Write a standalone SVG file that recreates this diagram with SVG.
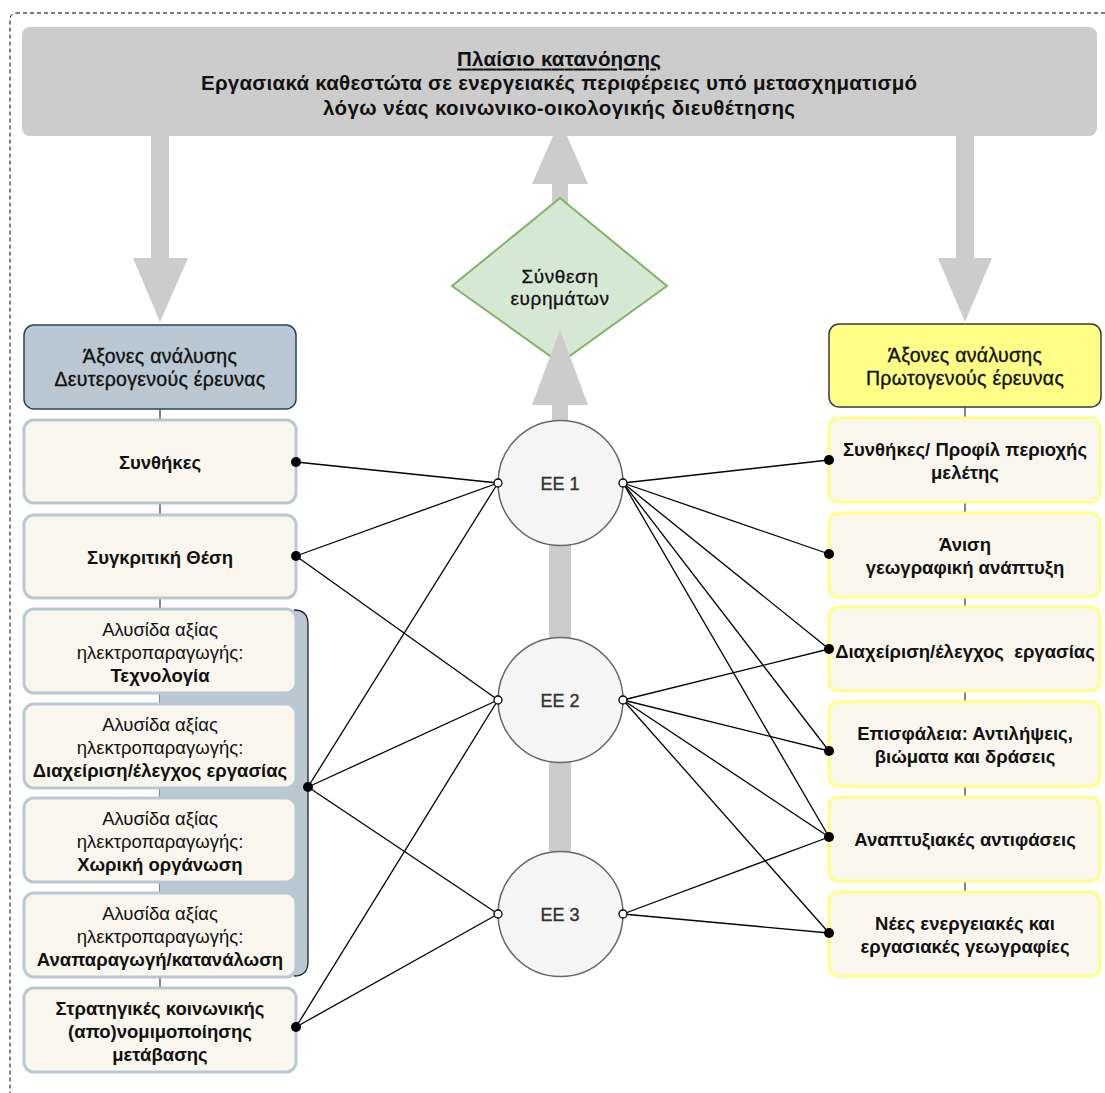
<svg xmlns="http://www.w3.org/2000/svg" width="1105" height="1093" viewBox="0 0 1105 1093">
<style>
.lbox{fill:#f9f7ed;stroke:#bac8d3;stroke-width:3}
.rbox{fill:#f9f7ed;stroke:#ffff88;stroke-width:3}
.t{font-family:"Liberation Sans",Arial,sans-serif;font-size:18.5px;fill:#111;text-anchor:middle;dominant-baseline:central}
.h{font-size:19.5px;letter-spacing:0.3px;stroke:#111;stroke-width:0.35px}
.ti{font-size:20.5px}
.d{font-size:19px;letter-spacing:0.6px;stroke:#111;stroke-width:0.3px}
.b{font-weight:bold}
.conn{stroke:#000;stroke-width:1.3;fill:none}
.vline{stroke:#333;stroke-width:1.2}
.dot{fill:#000}
.port{fill:#fff;stroke:#000;stroke-width:1.3}
.arrow{fill:#cccccc}
.ee{fill:#f5f5f5;stroke:#666;stroke-width:1.5}
.eet{font-family:"Liberation Sans",Arial,sans-serif;font-size:18px;fill:#333;stroke:#333;stroke-width:0.4px;text-anchor:middle;dominant-baseline:central}
</style>
<rect x="10" y="13" width="1200" height="1200" rx="6" fill="none" stroke="#000" stroke-width="1" stroke-dasharray="4 3"/>
<g id="arrow-top">
<rect class="arrow" x="552" y="180" width="16" height="25"/>
<polygon class="arrow" points="532,184 588,184 560,120"/>
</g>
<g id="banner">
<rect x="22" y="27" width="1075" height="109" rx="8" fill="#cccccc"/>
<text class="t ti b" x="559" y="58" text-decoration="underline" textLength="204" lengthAdjust="spacing">Πλαίσιο κατανόησης</text>
<text class="t ti b" x="559" y="82" textLength="716" lengthAdjust="spacing">Εργασιακά καθεστώτα σε ενεργειακές περιφέρειες υπό μετασχηματισμό</text>
<text class="t ti b" x="559" y="107" textLength="472" lengthAdjust="spacing">λόγω νέας κοινωνικο-οικολογικής διευθέτησης</text>
</g>
<g id="arrows-side">
<rect class="arrow" x="151" y="135" width="18" height="124"/>
<polygon class="arrow" points="133,258 188,258 160,322"/>
<rect class="arrow" x="956" y="135" width="18" height="124"/>
<polygon class="arrow" points="938,258 992,258 965,322"/>
</g>
<g id="column-lines">
<line class="vline" x1="160" y1="409" x2="160" y2="988"/>
<line class="vline" x1="965" y1="407" x2="965" y2="892"/>
</g>
<g id="bracket">
<rect x="160" y="610" width="148" height="366" rx="14" fill="#bac8d3"/>
<path d="M294 610 Q308 610 308 624 L308 962 Q308 976 294 976" fill="none" stroke="#222" stroke-width="1.3"/>
</g>
<g id="left-header">
<rect x="24" y="325" width="272" height="84" rx="10" fill="#bac8d3" stroke="#23445d" stroke-width="1.5"/>
<text class="t h" x="160" y="356">Άξονες ανάλυσης</text>
<text class="t h" x="160" y="379">Δευτερογενούς έρευνας</text>
</g>
<g id="l1"><rect class="lbox" x="24" y="420" width="272" height="83" rx="10"/><text class="t b" x="160" y="462">Συνθήκες</text></g>
<g id="l2"><rect class="lbox" x="24" y="515" width="272" height="83" rx="10"/><text class="t b" x="160" y="557">Συγκριτική Θέση</text></g>
<g id="l3"><rect class="lbox" x="24" y="609" width="272" height="84" rx="10"/>
<text class="t" x="160" y="629">Αλυσίδα αξίας</text><text class="t" x="160" y="652">ηλεκτροπαραγωγής:</text><text class="t b" x="160" y="675">Τεχνολογία</text></g>
<g id="l4"><rect class="lbox" x="24" y="704" width="272" height="84" rx="10"/>
<text class="t" x="160" y="724">Αλυσίδα αξίας</text><text class="t" x="160" y="747">ηλεκτροπαραγωγής:</text><text class="t b" x="160" y="770">Διαχείριση/έλεγχος εργασίας</text></g>
<g id="l5"><rect class="lbox" x="24" y="798" width="272" height="84" rx="10"/>
<text class="t" x="160" y="818">Αλυσίδα αξίας</text><text class="t" x="160" y="841">ηλεκτροπαραγωγής:</text><text class="t b" x="160" y="864">Χωρική οργάνωση</text></g>
<g id="l6"><rect class="lbox" x="24" y="893" width="272" height="84" rx="10"/>
<text class="t" x="160" y="913">Αλυσίδα αξίας</text><text class="t" x="160" y="936">ηλεκτροπαραγωγής:</text><text class="t b" x="160" y="959">Αναπαραγωγή/κατανάλωση</text></g>
<g id="l7"><rect class="lbox" x="24" y="988" width="272" height="84" rx="10"/>
<text class="t b" x="160" y="1008">Στρατηγικές κοινωνικής</text><text class="t b" x="160" y="1031">(απο)νομιμοποίησης</text><text class="t b" x="160" y="1054">μετάβασης</text></g>
<g id="right-header">
<rect x="829" y="324" width="272" height="83" rx="10" fill="#ffff88" stroke="#36393d" stroke-width="1.5"/>
<text class="t h" x="965" y="355">Άξονες ανάλυσης</text>
<text class="t h" x="965" y="378">Πρωτογενούς έρευνας</text>
</g>
<g id="r1"><rect class="rbox" x="829" y="418" width="271" height="84" rx="10"/><text class="t b" x="965" y="449">Συνθήκες/ Προφίλ περιοχής</text><text class="t b" x="965" y="472">μελέτης</text></g>
<g id="r2"><rect class="rbox" x="829" y="513" width="271" height="84" rx="10"/><text class="t b" x="965" y="544">Άνιση</text><text class="t b" x="965" y="567">γεωγραφική ανάπτυξη</text></g>
<g id="r3"><rect class="rbox" x="829" y="607" width="271" height="84" rx="10"/><text class="t b" x="965" y="651" xml:space="preserve">Διαχείριση/έλεγχος  εργασίας</text></g>
<g id="r4"><rect class="rbox" x="829" y="702" width="271" height="84" rx="10"/><text class="t b" x="965" y="733">Επισφάλεια: Αντιλήψεις,</text><text class="t b" x="965" y="756">βιώματα και δράσεις</text></g>
<g id="r5"><rect class="rbox" x="829" y="797" width="271" height="84" rx="10"/><text class="t b" x="965" y="839">Αναπτυξιακές αντιφάσεις</text></g>
<g id="r6"><rect class="rbox" x="829" y="892" width="271" height="84" rx="10"/><text class="t b" x="965" y="923">Νέες ενεργειακές και</text><text class="t b" x="965" y="946">εργασιακές γεωγραφίες</text></g>
<g id="bars">
<rect class="arrow" x="549" y="540" width="22" height="105"/>
<rect class="arrow" x="549" y="757" width="22" height="100"/>
</g>
<g id="synthesis">
<polygon points="560,198 667,286 560,363 452,286" fill="#d5e8d4" stroke="#82b366" stroke-width="2"/>
<text class="t d" x="560" y="276">Σύνθεση</text>
<text class="t d" x="560" y="298">ευρημάτων</text>
</g>
<g id="arrow-up">
<rect class="arrow" x="552" y="404" width="16" height="22"/>
<polygon class="arrow" points="532,405 588,405 560,330"/>
</g>
<g id="ee1"><circle class="ee" cx="560.5" cy="483" r="62.5"/><text class="eet" x="560" y="484">EE 1</text></g>
<g id="ee2"><circle class="ee" cx="560.5" cy="700" r="62.5"/><text class="eet" x="560" y="701">EE 2</text></g>
<g id="ee3"><circle class="ee" cx="560.5" cy="914" r="62.5"/><text class="eet" x="560" y="915">EE 3</text></g>
<g id="connectors">
<line class="conn" x1="296" y1="462" x2="498" y2="483"/>
<line class="conn" x1="296" y1="556" x2="498" y2="483"/>
<line class="conn" x1="296" y1="556" x2="498" y2="700"/>
<line class="conn" x1="308" y1="787" x2="498" y2="483"/>
<line class="conn" x1="308" y1="787" x2="498" y2="700"/>
<line class="conn" x1="308" y1="787" x2="498" y2="914"/>
<line class="conn" x1="296" y1="1027" x2="498" y2="700"/>
<line class="conn" x1="296" y1="1027" x2="498" y2="914"/>
<line class="conn" x1="623" y1="483" x2="829" y2="460"/>
<line class="conn" x1="623" y1="483" x2="829" y2="554"/>
<line class="conn" x1="623" y1="483" x2="829" y2="649"/>
<line class="conn" x1="623" y1="483" x2="829" y2="751"/>
<line class="conn" x1="623" y1="483" x2="829" y2="837"/>
<line class="conn" x1="623" y1="700" x2="829" y2="649"/>
<line class="conn" x1="623" y1="700" x2="829" y2="751"/>
<line class="conn" x1="623" y1="700" x2="829" y2="837"/>
<line class="conn" x1="623" y1="700" x2="829" y2="933"/>
<line class="conn" x1="623" y1="914" x2="829" y2="837"/>
<line class="conn" x1="623" y1="914" x2="829" y2="933"/>
<circle class="dot" cx="296" cy="462" r="5"/>
<circle class="dot" cx="296" cy="556" r="5"/>
<circle class="dot" cx="308" cy="787" r="5"/>
<circle class="dot" cx="296" cy="1027" r="5"/>
<circle class="dot" cx="829" cy="460" r="5"/>
<circle class="dot" cx="829" cy="554" r="5"/>
<circle class="dot" cx="829" cy="649" r="5"/>
<circle class="dot" cx="829" cy="751" r="5"/>
<circle class="dot" cx="829" cy="837" r="5"/>
<circle class="dot" cx="829" cy="933" r="5"/>
<circle class="port" cx="498" cy="483" r="4"/>
<circle class="port" cx="623" cy="483" r="4"/>
<circle class="port" cx="498" cy="700" r="4"/>
<circle class="port" cx="623" cy="700" r="4"/>
<circle class="port" cx="498" cy="914" r="4"/>
<circle class="port" cx="623" cy="914" r="4"/>
</g>
</svg>
